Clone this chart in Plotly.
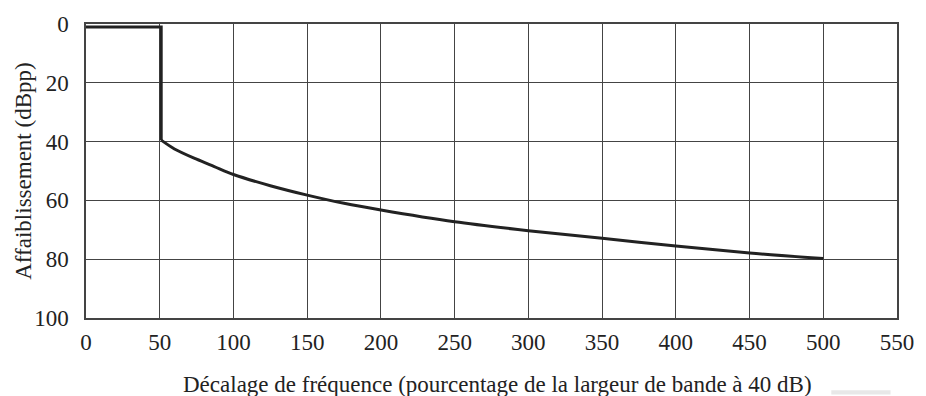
import plotly.graph_objects as go

# Mask: flat passband, vertical drop, then roll-off curve
step_x = [0, 51, 51]
step_y = [1, 1, 39.5]

curve_x = [51, 60, 75, 87, 100, 125, 150, 175, 200, 250, 300, 350, 400, 450, 500]
curve_y = [39.5, 42.5, 46, 48.5, 51.2, 55, 58.2, 61, 63.3, 67.3, 70.3, 72.9, 75.5, 77.9, 79.8]

x_ticks = list(range(0, 551, 50))
y_ticks = list(range(0, 101, 20))

FONT = "'Liberation Serif', 'Times New Roman', Times, serif"
INK = "#222222"
GRID = "#444444"

fig = go.Figure()
fig.add_trace(go.Scatter(x=step_x, y=step_y, mode="lines",
                         line=dict(color=INK, width=3), showlegend=False))
fig.add_trace(go.Scatter(x=curve_x, y=curve_y, mode="lines",
                         line=dict(color=INK, width=3, shape="spline", smoothing=0.8),
                         showlegend=False))

fig.update_layout(
    width=926, height=396,
    margin=dict(l=86, r=16, t=17, b=78),
    paper_bgcolor="white", plot_bgcolor="white",
    font=dict(family=FONT, size=23, color=INK),
    xaxis=dict(range=[0, 550], tickvals=x_ticks, showgrid=True, gridcolor=GRID,
               gridwidth=1.3, showline=True, linecolor=GRID, linewidth=1.5,
               mirror=True, zeroline=False, ticks="outside", ticklen=3,
               tickcolor="rgba(0,0,0,0)", ticklabeloverflow="allow",
               tickfont=dict(family=FONT, size=23, color=INK)),
    yaxis=dict(range=[100, 0], tickvals=y_ticks, showgrid=True, gridcolor=GRID,
               gridwidth=1.3, showline=True, linecolor=GRID, linewidth=1.5,
               mirror=True, zeroline=False, ticks="outside", ticklen=11,
               tickcolor="rgba(0,0,0,0)", ticklabeloverflow="allow",
               tickfont=dict(family=FONT, size=23, color=INK)),
    annotations=[
        dict(text="Décalage de fréquence (pourcentage de la largeur de bande à 40 dB)",
             xref="paper", yref="paper", x=0.508, y=-0.225,
             xanchor="center", yanchor="middle", showarrow=False,
             font=dict(family=FONT, size=23, color=INK)),
        dict(text="Affaiblissement (dBpp)", textangle=-90,
             xref="paper", yref="paper", x=-0.078, y=0.5,
             xanchor="center", yanchor="middle", showarrow=False,
             font=dict(family=FONT, size=23, color=INK)),
    ],
    shapes=[dict(type="rect", xref="paper", yref="paper",
                 x0=0.919, x1=0.992, y0=-0.26, y1=-0.246,
                 fillcolor="#e8e8e8", line=dict(width=0), layer="below")],
)

fig.write_html("out.html")
